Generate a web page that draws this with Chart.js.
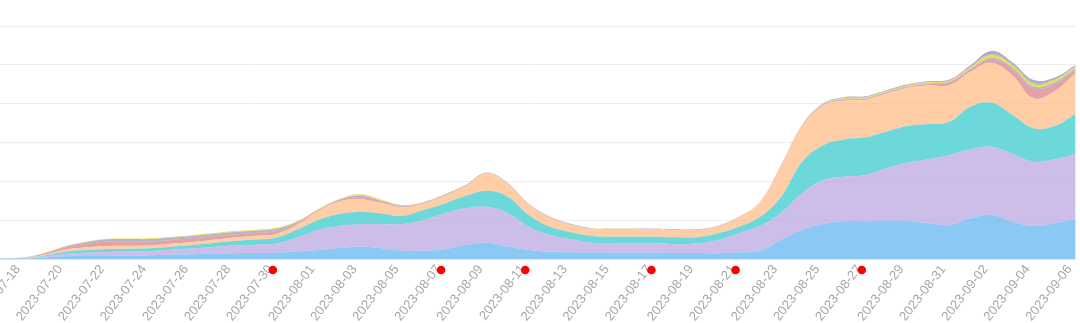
<!DOCTYPE html>
<html><head><meta charset="utf-8">
<script src="https://cdn.jsdelivr.net/npm/chart.js@4.4.0/dist/chart.umd.min.js"></script>
<style>
html,body{margin:0;padding:0;background:#fff;overflow:hidden;width:1080px;height:323px;}
#wrap{position:absolute;left:-40px;top:0;width:1120px;height:323px;}
</style></head><body>
<div id="wrap"><canvas id="c"></canvas></div>
<script>
const dates = [
 '2023-07-16','2023-07-17','2023-07-18','2023-07-19','2023-07-20','2023-07-21','2023-07-22','2023-07-23','2023-07-24','2023-07-25',
 '2023-07-26','2023-07-27','2023-07-28','2023-07-29','2023-07-30','2023-07-31','2023-08-01','2023-08-02','2023-08-03','2023-08-04',
 '2023-08-05','2023-08-06','2023-08-07','2023-08-08','2023-08-09','2023-08-10','2023-08-11','2023-08-12','2023-08-13','2023-08-14',
 '2023-08-15','2023-08-16','2023-08-17','2023-08-18','2023-08-19','2023-08-20','2023-08-21','2023-08-22','2023-08-23','2023-08-24',
 '2023-08-25','2023-08-26','2023-08-27','2023-08-28','2023-08-29','2023-08-30','2023-08-31','2023-09-01','2023-09-02','2023-09-03',
 '2023-09-04','2023-09-05','2023-09-06'];

const seriesBlue = [0,0.2,0.4,1.5,2.8,3.0,3.2,3.5,4.0,4.5, 5.0,5.5,6.0,6.2,6.5,7.7,9.3,11.3,12.7,11.0, 8.5,8.5,10.0,14.4,16.8,12.7,9.3,7.5,6.9,6.7, 6.5,6.5,6.5,6.2,6.2,5.9,6.9,8.5,19.6,29.9, 36.0,38.8,38.8,39.4,39.1,36.8,35.0,41.9,45.3,38.4, 34.0,36.8,40.9];
const seriesLavender = [0,0.1,0.3,1.2,2.6,3.4,4.0,4.2,4.3,5.0, 5.8,6.8,7.8,8.6,9.5,14.4,20.6,22.7,23.1,25.0, 27.5,31.6,37.0,37.8,37.0,34.4,24.0,17.2,13.4,10.1, 10.0,9.7,9.7,9.0,10.0,13.7,19.6,25.4,28.1,37.8, 45.3,45.9,47.7,54.0,60.0,65.9,72.1,71.1,70.3,69.7, 66.2,65.9,67.3];
const seriesTeal = [0,0.1,0.2,1.0,2.2,2.8,3.0,2.9,2.9,3.2, 3.6,4.2,4.8,5.3,6.0,8.2,10.3,12.4,12.7,11.0, 8.5,10.3,10.3,12.7,16.5,17.1,12.0,8.5,7.2,6.9, 6.5,6.8,6.8,7.2,6.2,6.9,6.8,9.6,16.5,32.5, 36.0,38.5,38.8,37.7,37.8,36.4,34.3,43.9,45.3,40.2, 34.4,34.3,41.2];
const seriesPeach = [0,0.1,0.2,1.0,2.3,3.0,3.3,3.0,2.8,2.9, 3.0,3.3,3.6,3.8,4.1,5.2,9.6,12.9,13.1,10.6, 8.7,6.9,7.5,10.3,17.8,12.8,10.3,9.3,7.5,7.2, 7.5,7.5,7.5,7.5,7.5,6.9,9.6,14.7,31.6,36.8, 40.9,39.8,38.7,39.1,39.4,39.9,37.8,36.0,41.2,40.5, 30.9,36.0,42.5];
const seriesPink = [0,0.1,0.3,1.0,2.1,3.6,4.6,4.6,4.3,4.1, 3.9,3.6,3.3,3.0,2.8,1.6,0.8,1.0,2.0,1.2, 0.9,0.5,0.6,0.4,0.3,0.4,0.4,0.4,0.4,0.3, 0.3,0.3,0.3,0.3,0.3,0.3,0.3,0.3,0.4,0.4, 0.6,0.8,0.8,0.8,0.8,1.0,2.5,2.0,3.0,6.2, 10.3,7.0,3.0];
const seriesGray = [0,0.1,0.2,0.6,1.1,1.8,2.2,2.3,2.3,2.3, 2.3,2.3,2.2,2.1,2.0,1.2,0.5,0.8,1.5,1.0, 0.7,0.4,0.5,0.3,0.2,0.3,0.3,0.3,0.3,0.2, 0.2,0.2,0.2,0.2,0.2,0.2,0.2,0.2,0.3,0.3, 0.5,0.8,0.8,0.8,0.8,0.8,0.8,1.0,2.0,2.0, 1.8,2.0,1.5];
const seriesYellow = [0,0,0.1,0.2,0.3,0.4,0.5,0.6,0.7,0.8, 0.9,1.0,1.1,1.2,1.2,0.8,0.5,0.7,1.5,1.0, 0.7,0.4,0.6,0.3,0.2,0.3,0.3,0.3,0.3,0.2, 0.2,0.2,0.2,0.2,0.2,0.2,0.2,0.2,0.3,0.3, 0.4,0.9,0.9,0.9,0.9,0.9,0.9,1.5,2.8,2.1, 2.4,2.0,1.5];
const seriesGreen = [0,0,0,0,0,0,0,0,0,0, 0,0,0,0,0,0,0,0,0,0, 0,0,0,0,0,0,0,0,0,0, 0,0,0,0,0,0,0,0,0.1,0.1, 0.2,0.4,0.4,0.4,0.4,0.5,0.5,0.7,1.5,1.5, 2.0,1.5,1.0];
const seriesPurple = [0,0,0,0,0,0,0,0,0,0, 0,0,0,0,0,0,0,0,0,0.2, 0.2,0.2,0.2,0.2,0.2,0.2,0.2,0.2,0.2,0.2, 0.2,0.2,0.2,0.2,0.2,0.2,0.2,0.2,0.3,0.3, 0.5,0.8,0.8,0.8,0.8,0.9,0.9,1.5,2.8,1.9, 2.3,1.5,1.0];

const markerDates = ['2023-07-30','2023-08-07','2023-08-11','2023-08-17','2023-08-21','2023-08-27'];
const markerValue = -11.3;

const yMin = -17.5, yMax = 240, yStep = 40;
const gridValues = [0, 40, 80, 120, 160, 200, 240];

const series = [
  {name:'A', data:seriesBlue,     color:'rgba(90,177,239,0.7)'},
  {name:'B', data:seriesLavender, color:'rgba(182,162,222,0.7)'},
  {name:'C', data:seriesTeal,     color:'rgba(46,199,201,0.7)'},
  {name:'D', data:seriesPeach,    color:'rgba(255,185,128,0.7)'},
  {name:'E', data:seriesPink,     color:'rgba(216,122,128,0.7)'},
  {name:'F', data:seriesGray,     color:'rgba(141,152,179,0.7)'},
  {name:'G', data:seriesYellow,   color:'rgba(229,207,13,0.7)'},
  {name:'H', data:seriesGreen,    color:'rgba(151,181,82,0.7)'},
  {name:'I', data:seriesPurple,   color:'rgba(154,127,209,0.75)'}
];

const datasets = series.map((s,i)=>({
  label:s.name, data:s.data, backgroundColor:s.color,
  borderColor:'rgba(0,0,0,0)', borderWidth:0, pointRadius:0, pointHoverRadius:0,
  tension:0.4, fill: i===0 ? 'origin' : '-1', stack:'main', order:1
}));

datasets.push({
  type:'line', label:'markers', xAxisID:'xm', yAxisID:'ym',
  data: markerDates.map(d=>({x:dates.indexOf(d), y:markerValue})),
  showLine:false, pointRadius:4.3, pointHoverRadius:4.3, pointBackgroundColor:'#ff0000', pointBorderWidth:0,
  borderColor:'rgba(0,0,0,0)', backgroundColor:'#ff0000', clip:false, order:0, fill:false
});

new Chart(document.getElementById('c'), {
  type:'line',
  data:{labels:dates, datasets},
  options:{
    responsive:true, maintainAspectRatio:false, animation:false,
    layout:{padding:{left:21.9, right:3, top:26, bottom:0}},
    plugins:{legend:{display:false}, tooltip:{enabled:false}},
    scales:{
      x:{
        type:'category', offset:false,
        grid:{display:false, drawTicks:false},
        border:{display:false},
        ticks:{autoSkip:false, minRotation:52, maxRotation:52, padding:-14, labelOffset:-6, color:'#a6a6a6',
               font:{size:13, family:'"Liberation Sans", Arial, sans-serif'},
               callback:(v,i)=> i % 2 === 0 ? dates[i] : ''},
        afterFit:(s)=>{ s.height = 47; s.paddingLeft = 0; s.paddingRight = 0; s._computeLabelArea = () => undefined; }
      },
      y:{
        stacked:true, min:yMin, max:yMax,
        ticks:{display:false, stepSize:yStep},
        afterBuildTicks:(s)=>{ s.ticks = gridValues.map(v=>({value:v})); },
        grid:{color:(c)=> c.tick && c.tick.value === 0 ? '#e1e4ea' : '#ededed', drawTicks:false},
        border:{display:false},
        afterFit:(s)=>{ s.width = 0; }
      },
      xm:{type:'linear', display:false, min:0.17, max:dates.length-1+0.17},
      ym:{type:'linear', display:false, min:yMin, max:yMax}
    }
  }
});
</script>
</body></html>
